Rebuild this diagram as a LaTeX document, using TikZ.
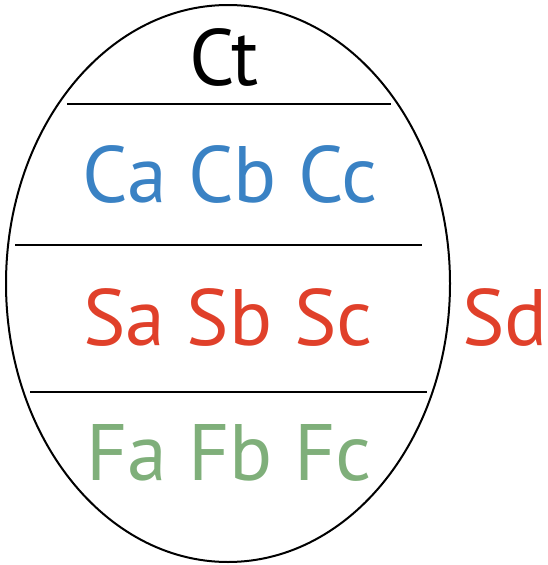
\documentclass[tikz,border=0pt]{standalone}
\usepackage{fontspec}
\usetikzlibrary{shapes.geometric}
\setmainfont{PT Sans}
\definecolor{cblue}{HTML}{3A82C4}
\definecolor{cred}{HTML}{E0402A}
\definecolor{cgreen}{HTML}{7FAF7A}
\begin{document}
\begin{tikzpicture}[x=1pt,y=-1pt,
  lbl/.style={anchor=base,inner sep=0pt,font=\fontsize{80}{80}\selectfont},
  sep/.style={line width=2.4pt}]
\useasboundingbox (0,0) rectangle (547,565);
\node[draw,line width=2pt,ellipse,minimum width=444pt,minimum height=557pt,inner sep=0pt] (oval) at (228,283.5) {};
\coordinate (l1a) at (67,104); \coordinate (l1b) at (391,104);
\coordinate (l2a) at (15,245); \coordinate (l2b) at (422,245);
\coordinate (l3a) at (30,392); \coordinate (l3b) at (427,392);
\draw[sep] (l1a) -- (l1b);
\draw[sep] (l2a) -- (l2b);
\draw[sep] (l3a) -- (l3b);
\node[lbl,text=black] (ct) at (224,85) {Ct};
\node[lbl,text=cblue] (c) at (230,202) {Ca Cb Cc};
\node[lbl,text=cred] (s) at (228,345) {Sa Sb Sc};
\node[lbl,text=cred] (sd) at (505,345) {Sd};
\node[lbl,text=cgreen] (f) at (229,480) {Fa Fb Fc};
\end{tikzpicture}
\end{document}
